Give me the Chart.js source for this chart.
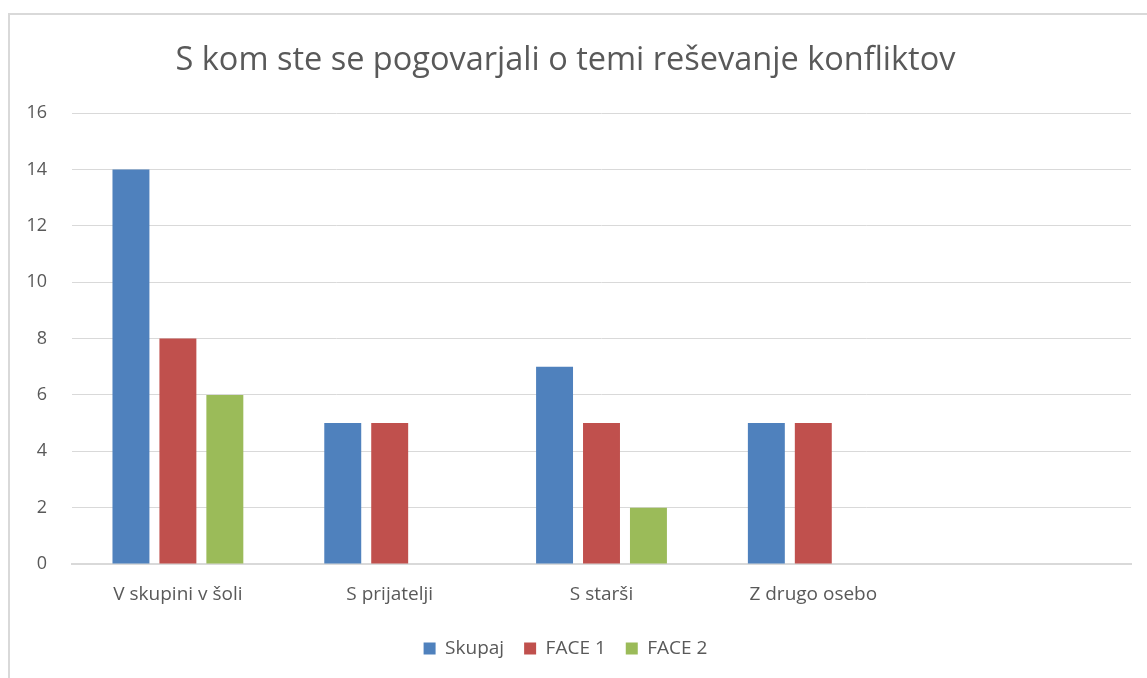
<!DOCTYPE html>
<html>
<head>
<meta charset="utf-8">
<script src="https://cdn.jsdelivr.net/npm/chart.js@4/dist/chart.umd.min.js"></script>
<style>
  html, body { margin: 0; padding: 0; background: #fff; }
  #wrap { position: relative; width: 1147px; height: 678px; }
  #frame { position: absolute; left: 8px; top: 13px; right: 0; bottom: 0;
           border-left: 2px solid #d9d9d9; border-top: 2px solid #d9d9d9; pointer-events: none; }
  canvas { position: absolute; left: 0; top: 0; }
</style>
</head>
<body>
<div id="wrap">
  <canvas id="c" width="1147" height="678"></canvas>
  <div id="frame"></div>
</div>
<script>
const categories = ["V skupini v šoli", "S prijatelji", "S starši", "Z drugo osebo", ""];
const skupaj = [14, 5, 7, 5, null];
const face1 = [8, 5, 5, 5, null];
const face2 = [6, 0, 2, 0, null];
const seriesNames = ["Skupaj", "FACE 1", "FACE 2"];
const yTicks = [0, 2, 4, 6, 8, 10, 12, 14, 16];

const FONT = "'Open Sans', sans-serif";
const TXT = "#595959";

new Chart(document.getElementById("c"), {
  type: "bar",
  data: {
    labels: categories,
    datasets: [
      { label: seriesNames[0], data: skupaj, backgroundColor: "#4F81BD" },
      { label: seriesNames[1], data: face1, backgroundColor: "#C0504D" },
      { label: seriesNames[2], data: face2, backgroundColor: "#9BBB59" }
    ]
  },
  options: {
    responsive: false,
    animation: false,
    devicePixelRatio: 1,
    categoryPercentage: 0.665,
    barPercentage: 0.787,
    layout: { padding: { left: 0, right: 16, top: 0, bottom: 10 } },
    plugins: {
      title: {
        display: true,
        text: "S kom ste se pogovarjali o temi reševanje konfliktov",
        color: TXT,
        font: { family: FONT, size: 32.5, weight: "normal" },
        padding: { top: 41, bottom: 33 }
      },
      legend: {
        position: "bottom",
        labels: {
          color: TXT,
          font: { family: FONT, size: 19 },
          boxWidth: 12, boxHeight: 12,
          padding: 20
        }
      },
      tooltip: { enabled: false }
    },
    scales: {
      x: {
        afterFit: s => { s.height = 55; },
        grid: { display: false, drawTicks: false },
        border: { display: true, color: "#d9d9d9", width: 2 },
        ticks: { color: TXT, font: { family: FONT, size: 19 }, padding: 19 }
      },
      y: {
        min: 0, max: 16,
        afterBuildTicks: s => { s.ticks = yTicks.map(v => ({ value: v })); },
        afterFit: s => { s.width = 72; },
        grid: { color: "#d9d9d9", lineWidth: 1, drawTicks: false },
        border: { display: false },
        ticks: { color: TXT, font: { family: FONT, size: 18 }, padding: 25 }
      }
    }
  }
});
</script>
</body>
</html>
